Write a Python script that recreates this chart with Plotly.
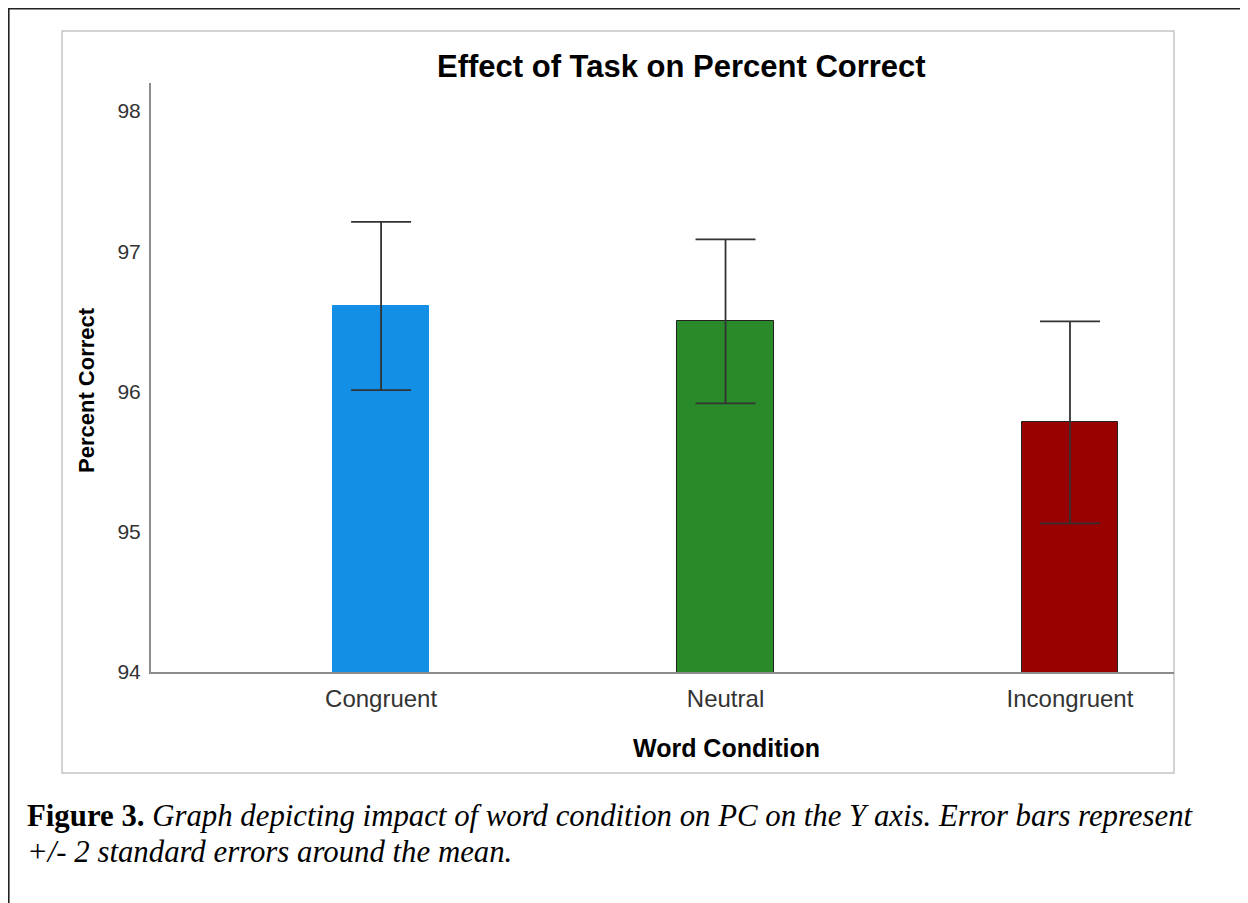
import plotly.graph_objects as go

categories = ["Congruent", "Neutral", "Incongruent"]
means = [96.61, 96.50, 95.78]
err_plus = [0.60, 0.585, 0.72]
err_minus = [0.60, 0.585, 0.72]
colors = ["#138FE6", "#2A8A2A", "#990000"]
line_colors = ["#138FE6", "#222222", "#222222"]
y_ticks = [94, 95, 96, 97, 98]

W, H = 1248, 903
OFF = 8  # page body margin offset
L, R, T, B = 151 - OFF, 1174 - OFF, 83 - OFF, 672 - OFF

def px(x):
    return (x - OFF - L) / (R - L)

def py(y):
    return (B - (y - OFF)) / (B - T)

fig = go.Figure()
fig.add_trace(go.Bar(
    x=categories, y=means,
    marker=dict(color=colors, line=dict(color=line_colors, width=1)),
    width=0.279,
    error_y=dict(type="data", symmetric=False, array=err_plus, arrayminus=err_minus,
                 color="#333333", thickness=1.8, width=30),
    showlegend=False,
))

font_sans = "Liberation Sans, Arial, sans-serif"
font_serif = "Liberation Serif, Times New Roman, serif"

fig.update_layout(
    width=W, height=H,
    margin=dict(l=L, r=W - R, t=T, b=H - B, autoexpand=False),
    paper_bgcolor="white", plot_bgcolor="white",
    xaxis=dict(range=[-0.668, 2.302], showline=True, linecolor="#8c8c8c", linewidth=2,
               ticks="", showgrid=False, zeroline=False, ticklabelstandoff=4,
               tickfont=dict(family=font_sans, size=24, color="#333333")),
    yaxis=dict(range=[94, 98.2], showline=True, linecolor="#8c8c8c", linewidth=2,
               ticks="", showgrid=False, zeroline=False, tickvals=y_ticks,
               ticklabelstandoff=4,
               tickfont=dict(family=font_sans, size=21, color="#333333")),
    bargap=0,
)

shapes = [
    dict(type="rect", xref="paper", yref="paper", x0=px(62), x1=px(1174), y0=py(773), y1=py(31),
         line=dict(color="#c4c4c4", width=1.5), fillcolor="rgba(0,0,0,0)", layer="below"),
    dict(type="line", xref="paper", yref="paper", x0=px(0), x1=px(1260), y0=py(8.5), y1=py(8.5),
         line=dict(color="#222222", width=2.2)),
    dict(type="line", xref="paper", yref="paper", x0=px(8.5), x1=px(8.5), y0=py(8), y1=py(915),
         line=dict(color="#222222", width=2.2)),
]
fig.update_layout(shapes=shapes)

annotations = [
    dict(text="<b>Effect of Task on Percent Correct</b>", x=px(681), y=py(66), xref="paper", yref="paper",
         showarrow=False, xanchor="center", yanchor="middle",
         font=dict(family=font_sans, size=31, color="black")),
    dict(text="<b>Percent Correct</b>", x=px(87), y=py(390), xref="paper", yref="paper",
         showarrow=False, xanchor="center", yanchor="middle", textangle=-90,
         font=dict(family=font_sans, size=22, color="black")),
    dict(text="<b>Word Condition</b>", x=px(726), y=py(748), xref="paper", yref="paper",
         showarrow=False, xanchor="center", yanchor="middle",
         font=dict(family=font_sans, size=25, color="black")),
    dict(text="<b>Figure 3.</b> <i>Graph depicting impact of word condition on PC on the Y axis. Error bars represent</i>",
         x=px(25), y=py(816), xref="paper", yref="paper",
         showarrow=False, xanchor="left", yanchor="middle",
         font=dict(family=font_serif, size=30.8, color="black")),
    dict(text="<i>+/- 2 standard errors around the mean.</i>",
         x=px(25), y=py(852), xref="paper", yref="paper",
         showarrow=False, xanchor="left", yanchor="middle",
         font=dict(family=font_serif, size=30.8, color="black")),
]
fig.update_layout(annotations=annotations)

fig.write_html("out.html")
